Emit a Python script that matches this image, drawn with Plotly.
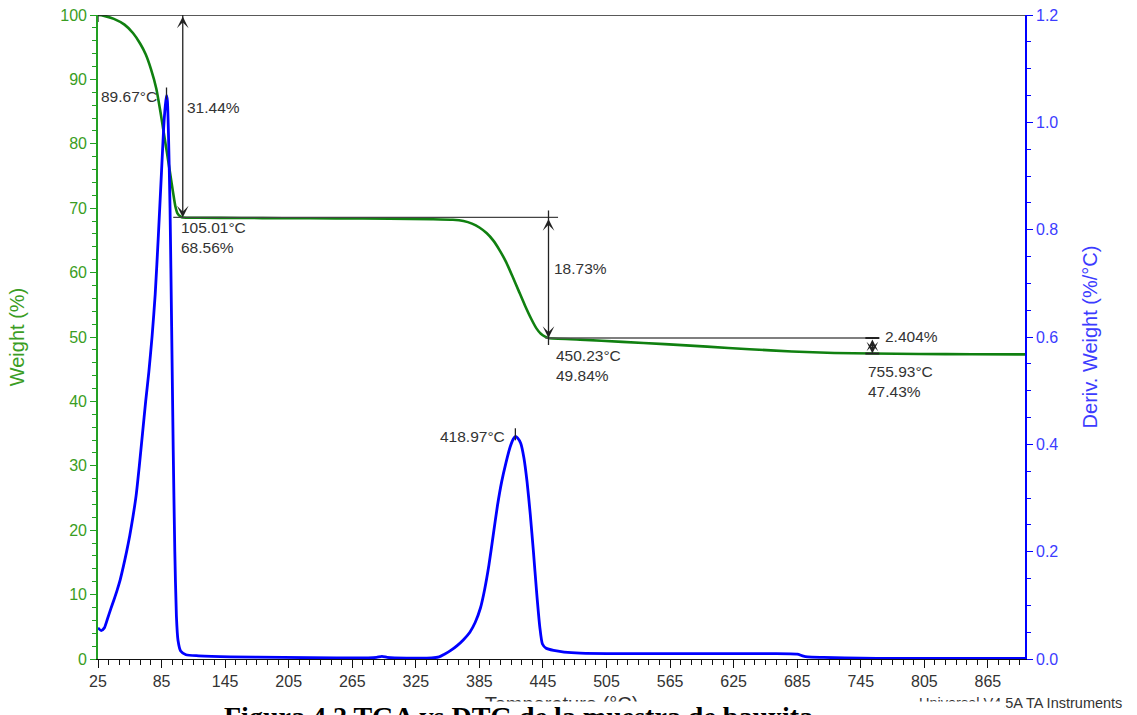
import plotly.graph_objects as go

# ---------------- data ----------------
tga_temp = [25, 30, 40, 50, 58, 65, 70, 75, 80, 84, 87, 90, 93, 96, 98, 100, 103, 105.01,
            120, 160, 200, 250, 300, 340, 360, 370, 378, 385, 392, 398, 404, 410, 416, 422,
            428, 434, 439, 443, 447, 450.23, 480, 520, 560, 600, 640, 680, 720, 755.93, 800,
            850, 900]
tga_weight = [100, 99.9, 99.4, 98.5, 97.2, 95.5, 93.9, 91.6, 88.6, 84.9, 81.8, 78.7, 75.5, 72.3,
              70.3, 69.2, 68.7, 68.56, 68.52, 68.48, 68.45, 68.42, 68.38, 68.3, 68.2, 68.0,
              67.6, 67.0, 66.1, 65.0, 63.5, 61.7, 59.5, 57.2, 54.9, 52.8, 51.3, 50.5, 50.05,
              49.84, 49.6, 49.25, 48.9, 48.5, 48.1, 47.75, 47.52, 47.43, 47.36, 47.32, 47.3]

dtg_temp = [25, 28, 31, 34, 37, 40, 43, 46, 49, 52, 55, 58, 61, 64, 67, 70, 73, 76, 79, 82,
            85, 87, 88.5, 89.67, 90.5, 91.5, 93, 94.5, 96, 97.5, 99, 100.5, 103, 108, 120,
            150, 200, 250, 280, 288, 293, 298, 305, 340, 347, 352, 358, 364, 370, 376, 381,
            386, 390, 394, 398, 402, 406, 410, 414, 417, 418.97, 421, 424, 427, 430, 433, 436,
            439, 442, 444.5, 448, 455, 465, 480, 520, 600, 660, 685, 690, 695, 710, 730, 760,
            800, 900]
dtg_deriv = [0.058, 0.053, 0.058, 0.075, 0.093, 0.11, 0.128, 0.148, 0.173, 0.2, 0.23, 0.265,
             0.305, 0.36, 0.42, 0.48, 0.535, 0.6, 0.68, 0.79, 0.91, 0.99, 1.03, 1.05, 1.04,
             0.98, 0.84, 0.62, 0.39, 0.2, 0.08, 0.035, 0.015, 0.008, 0.006, 0.004, 0.003,
             0.002, 0.002, 0.003, 0.005, 0.003, 0.002, 0.002, 0.004, 0.009, 0.016, 0.025,
             0.036, 0.05, 0.068, 0.095, 0.13, 0.175, 0.23, 0.285, 0.33, 0.365, 0.395, 0.41,
             0.415, 0.412, 0.402, 0.375, 0.33, 0.27, 0.2, 0.125, 0.06, 0.028, 0.02, 0.016,
             0.013, 0.011, 0.01, 0.01, 0.01, 0.009, 0.006, 0.004, 0.003, 0.002, 0.001, 0.001,
             0.001]

step_temps = [25, 105.01, 450.23, 755.93]
step_weights = [100, 68.56, 49.84, 47.43]
step_losses = ["31.44%", "18.73%", "2.404%"]
peak_temps = [89.67, 418.97]
peak_derivs = [1.05, 0.415]

x_ticks = list(range(25, 900, 60))

# ---------------- styles ----------------
FONT = "Liberation Sans, Arial, sans-serif"
GREEN_LINE = "#108010"
GREEN_AX = "#22a022"
GREEN_TXT = "#3a9d23"
BLUE = "#0000ff"
BLUE_TXT = "#3c3cff"
DARK = "#333333"
ANN = "#222222"

fig = go.Figure()
fig.add_trace(go.Scatter(x=tga_temp, y=tga_weight, mode="lines", name="Weight",
                         line=dict(color=GREEN_LINE, width=2.6, shape="spline", smoothing=0.6),
                         showlegend=False))
fig.add_trace(go.Scatter(x=dtg_temp, y=dtg_deriv, mode="lines", name="Deriv. Weight",
                         yaxis="y2",
                         line=dict(color=BLUE, width=2.8, shape="spline", smoothing=0.6),
                         showlegend=False))

shapes = []
# baseline / step lines
shapes.append(dict(type="line", xref="x", yref="y", x0=step_temps[0], x1=900,
                   y0=step_weights[0], y1=step_weights[0], line=dict(color=ANN, width=1.3)))
shapes.append(dict(type="line", xref="x", yref="y", x0=step_temps[1] - 9, x1=step_temps[2] + 9,
                   y0=step_weights[1], y1=step_weights[1], line=dict(color="#444", width=1.3)))
shapes.append(dict(type="line", xref="x", yref="y", x0=step_temps[2] - 3, x1=step_temps[3] + 5,
                   y0=step_weights[2], y1=step_weights[2], line=dict(color="#555", width=1.6)))
# small cross ticks at the arrow ends
for t, w in [(step_temps[0], step_weights[0]), (step_temps[1], step_weights[0]),
             (step_temps[2], step_weights[1]), (step_temps[2], step_weights[2])]:
    shapes.append(dict(type="line", xref="x", yref="y", ysizemode="pixel", yanchor=w,
                       x0=t, x1=t, y0=-7, y1=7, line=dict(color=ANN, width=1.3)))
for w in [step_weights[2], step_weights[3]]:
    shapes.append(dict(type="line", xref="x", yref="y", xsizemode="pixel", xanchor=step_temps[3],
                       x0=-7, x1=7, y0=w, y1=w, line=dict(color=ANN, width=2)))
# peak markers
for t, d in zip(peak_temps, peak_derivs):
    shapes.append(dict(type="line", xref="x", yref="y2", ysizemode="pixel", yanchor=d,
                       x0=t, x1=t, y0=-4, y1=8, line=dict(color=ANN, width=1.3)))

annotations = []
# double arrows for the steps
for i in range(3):
    annotations.append(dict(x=step_temps[i + 1], y=step_weights[i + 1],
                            ax=step_temps[i + 1], ay=step_weights[i],
                            xref="x", yref="y", axref="x", ayref="y", text="",
                            showarrow=True, arrowside="end+start", arrowhead=3,
                            startarrowhead=3, arrowsize=1.5, startarrowsize=1.5,
                            arrowwidth=1.3, arrowcolor=ANN, standoff=0, startstandoff=0))

lbl = dict(font=dict(family=FONT, size=15.5, color=DARK), showarrow=False,
           xref="x", yref="y", align="left", xanchor="left")
annotations.append(dict(lbl, x=step_temps[1], y=(step_weights[0] + step_weights[1]) / 2,
                        text=step_losses[0], xshift=2, yshift=9, yanchor="middle"))
annotations.append(dict(lbl, x=step_temps[2], y=(step_weights[1] + step_weights[2]) / 2,
                        text=step_losses[1], xshift=3, yshift=9, yanchor="middle"))
annotations.append(dict(lbl, x=step_temps[3], y=(step_weights[2] + step_weights[3]) / 2,
                        text=step_losses[2], xshift=11, yshift=9, yanchor="middle"))
annotations.append(dict(lbl, x=step_temps[1], y=step_weights[1],
                        text=f"{step_temps[1]:.2f}°C<br>{step_weights[1]:.2f}%",
                        xshift=-4, yshift=0, yanchor="top"))
annotations.append(dict(lbl, x=step_temps[2], y=step_weights[2],
                        text=f"{step_temps[2]:.2f}°C<br>{step_weights[2]:.2f}%",
                        xshift=5, yshift=-7, yanchor="top"))
annotations.append(dict(lbl, x=step_temps[3], y=step_weights[3],
                        text=f"{step_temps[3]:.2f}°C<br>{step_weights[3]:.2f}%",
                        xshift=-6, yshift=-7, yanchor="top"))
# peak labels
annotations.append(dict(x=peak_temps[0], y=peak_derivs[0], xref="x", yref="y2",
                        text=f"{peak_temps[0]:.2f}°C", showarrow=False, xanchor="right",
                        yanchor="middle", xshift=-8, yshift=-1,
                        font=dict(family=FONT, size=15.5, color=DARK)))
annotations.append(dict(x=peak_temps[1], y=peak_derivs[1], xref="x", yref="y2",
                        text=f"{peak_temps[1]:.2f}°C", showarrow=False, xanchor="right",
                        yanchor="middle", xshift=-8, yshift=0,
                        font=dict(family=FONT, size=15.5, color=DARK)))
# footer texts
annotations.append(dict(x=1.107, y=-0.069, xref="paper", yref="paper",
                        text="Universal V4.5A TA Instruments", showarrow=False,
                        xanchor="right", yanchor="middle",
                        font=dict(family=FONT, size=14.5, color=DARK)))
annotations.append(dict(x=-0.1057, y=-0.065, xref="paper", yref="paper", text=" ",
                        showarrow=False, xanchor="left", yanchor="top", width=1003, height=30,
                        bgcolor="white", borderpad=0))
annotations.append(dict(x=0.454, y=-0.062, xref="paper", yref="paper",
                        text="<b>Figura 4.2 TGA vs DTG de la muestra de bauxita</b>",
                        showarrow=False, xanchor="center", yanchor="top",
                        font=dict(family="Liberation Serif, Times New Roman, serif", size=28,
                                  color="#000")))

fig.update_layout(
    template="none",
    width=1137, height=715,
    margin=dict(l=98, r=112, t=15, b=56),
    paper_bgcolor="white", plot_bgcolor="white",
    showlegend=False,
    font=dict(family=FONT),
    xaxis=dict(range=[25, 900], tickvals=x_ticks, showgrid=False, zeroline=False,
               showline=True, linecolor="#111", linewidth=1.3, ticks="outside", ticklen=8,
               tickwidth=1.3, tickcolor="#111", automargin=False,
               tickfont=dict(family=FONT, size=16, color=DARK),
               minor=dict(dtick=10, tick0=25, ticks="outside", ticklen=5, tickcolor="#111",
                          tickwidth=1.2),
               title=dict(text="Temperature (°C)", standoff=14,
                          font=dict(family=FONT, size=20, color=DARK))),
    yaxis=dict(range=[0, 100], dtick=10, showgrid=False, zeroline=False, showline=True,
               linecolor=GREEN_AX, linewidth=1.6, ticks="outside", ticklen=6, tickwidth=1.3,
               tickcolor=GREEN_AX, automargin=False,
               tickfont=dict(family=FONT, size=16, color=GREEN_TXT),
               minor=dict(dtick=2, ticks="outside", ticklen=4, tickcolor=GREEN_AX, tickwidth=1.2),
               title=dict(text="Weight (%)", standoff=30,
                          font=dict(family=FONT, size=20, color=GREEN_TXT))),
    yaxis2=dict(range=[0, 1.2], dtick=0.2, tickformat=".1f", overlaying="y", side="right",
                showgrid=False, zeroline=False, showline=True, linecolor=BLUE, linewidth=1.6,
                ticks="outside", ticklen=6, tickwidth=1.3, tickcolor=BLUE, automargin=False,
                tickfont=dict(family=FONT, size=16, color=BLUE_TXT),
                minor=dict(dtick=0.05, ticks="outside", ticklen=4, tickcolor=BLUE, tickwidth=1.2),
                title=dict(text="Deriv. Weight (%/°C)", standoff=26,
                           font=dict(family=FONT, size=20, color=BLUE_TXT))),
    shapes=shapes,
    annotations=annotations,
)

fig.write_html("out.html", config={"displayModeBar": False},
               post_script="document.body.style.margin='0';")
